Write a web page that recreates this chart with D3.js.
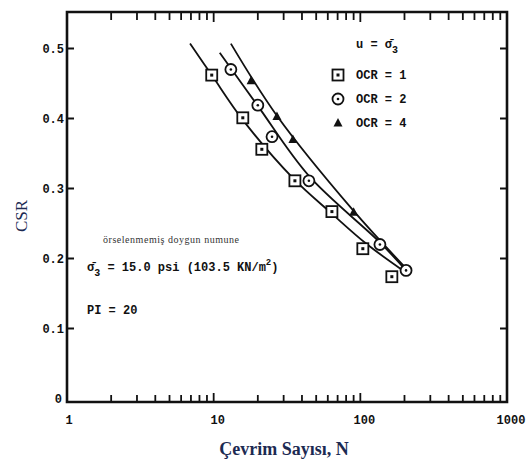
<!DOCTYPE html>
<html>
<head>
<meta charset="utf-8">
<script src="https://cdn.jsdelivr.net/npm/d3@7"></script>
<style>
  body { margin: 0; background: #fff; }
  svg { display: block; }
  .mono { font-family: "Liberation Mono", "DejaVu Sans Mono", monospace; font-weight: bold; }
</style>
</head>
<body>
<div id="chart"></div>
<script>
// values (N, CSR)
var ocr1Points = [[9.7, 0.462], [15.8, 0.401], [21.3, 0.356], [35.8, 0.311], [64, 0.267], [104, 0.214], [164, 0.174]];
var ocr2Points = [[13.1, 0.470], [20, 0.419], [25, 0.374], [44.6, 0.311], [136, 0.220], [205, 0.183]];
var ocr4Points = [[18, 0.454], [27, 0.403], [34.7, 0.370], [90, 0.266]];

// fitted curves drawn through each series
var ocr1Curve = [[6.9, 0.507], [9.7, 0.462], [15.8, 0.398], [35, 0.314], [64, 0.264], [110, 0.221], [195, 0.183]];
var ocr2Curve = [[11.0, 0.494], [20, 0.418], [44.6, 0.318], [136, 0.223], [205, 0.183]];
var ocr4Curve = [[13.1, 0.507], [27, 0.404], [90, 0.268], [205, 0.186]];

var yTicks = [0, 0.1, 0.2, 0.3, 0.4, 0.5];
var yTickLabels = ["0", "0.1", "0.2", "0.3", "0.4", "0.5"];
var xTicks = [1, 10, 100, 1000];
var xTickLabels = ["1", "10", "100", "1000"];
var legendLabels = ["OCR = 1", "OCR = 2", "OCR = 4"];

var W = 526, H = 470;
var svg = d3.select("#chart").append("svg").attr("width", W).attr("height", H);

var x = d3.scaleLog().domain([1, 1000]).range([67, 507]);
var y = d3.scaleLinear().domain([-0.005, 0.55]).range([402, 13.5]);

var ink = "#111";

// minor ticks on log axis
var minor = [];
[1, 10, 100].forEach(function (dec) {
    for (var k = 2; k <= 9; k++) minor.push(dec * k);
});

var g = svg.append("g");

// bottom ticks (inside)
g.selectAll(".bt").data(minor.concat([10, 100])).enter().append("line")
    .attr("x1", x).attr("x2", x)
    .attr("y1", 402).attr("y2", function (d) { return [10, 100].indexOf(d) >= 0 ? 393 : 395; })
    .attr("stroke", ink).attr("stroke-width", 1.8);
// top ticks (inside)
g.selectAll(".tt").data(minor.concat([10, 100])).enter().append("line")
    .attr("x1", x).attr("x2", x)
    .attr("y1", 12).attr("y2", function (d) { return [10, 100].indexOf(d) >= 0 ? 22 : 20; })
    .attr("stroke", ink).attr("stroke-width", 1.8);
// left ticks
g.selectAll(".lt").data(yTicks.slice(1)).enter().append("line")
    .attr("x1", 67).attr("x2", 74)
    .attr("y1", y).attr("y2", y)
    .attr("stroke", ink).attr("stroke-width", 2);
// right ticks
g.selectAll(".rt").data(yTicks.slice(1)).enter().append("line")
    .attr("x1", 507).attr("x2", 500)
    .attr("y1", y).attr("y2", y)
    .attr("stroke", ink).attr("stroke-width", 2);

// frame
g.append("path")
    .attr("d", "M67,12 L507,12 L507,402 L67,402 Z")
    .attr("fill", "none").attr("stroke", ink).attr("stroke-width", 2.6);

// tick labels
g.selectAll(".yl").data(yTicks).enter().append("text")
    .attr("class", "mono")
    .attr("x", function (d) { return d === 0 ? 62 : 64; })
    .attr("y", function (d) { return y(d) + 4; })
    .attr("text-anchor", "end")
    .attr("font-size", 12)
    .attr("fill", ink)
    .text(function (d, i) { return yTickLabels[i]; });

g.selectAll(".xl").data(xTicks).enter().append("text")
    .attr("class", "mono")
    .attr("x", function (d) { return x(d) + (d === 1 ? 2 : 4); })
    .attr("y", 424)
    .attr("text-anchor", "middle")
    .attr("font-size", 12)
    .attr("fill", ink)
    .text(function (d, i) { return xTickLabels[i]; });

// axis titles
svg.append("text")
    .attr("transform", "translate(27,216) rotate(-90)")
    .attr("text-anchor", "middle")
    .attr("font-family", "Liberation Serif, Times New Roman, serif")
    .attr("font-size", 17)
    .attr("fill", "#1c2a52")
    .text("CSR");

svg.append("text")
    .attr("x", 284).attr("y", 455)
    .attr("text-anchor", "middle")
    .attr("font-family", "Liberation Serif, Times New Roman, serif")
    .attr("font-weight", "bold")
    .attr("font-size", 18)
    .attr("fill", "#1c2a52")
    .text("Çevrim Sayısı, N");

// curves
var line = d3.line()
    .x(function (d) { return x(d[0]); })
    .y(function (d) { return y(d[1]); })
    .curve(d3.curveCatmullRom);

[ocr1Curve, ocr2Curve, ocr4Curve].forEach(function (c) {
    g.append("path").attr("d", line(c))
        .attr("fill", "none").attr("stroke", ink).attr("stroke-width", 1.8);
});

// markers
function square(sel, cx, cy) {
    sel.append("rect").attr("x", cx - 5.5).attr("y", cy - 5.5).attr("width", 11).attr("height", 11)
        .attr("fill", "#fff").attr("stroke", ink).attr("stroke-width", 1.8);
    sel.append("rect").attr("x", cx - 1.5).attr("y", cy - 1.5).attr("width", 3).attr("height", 3).attr("fill", ink);
}
function circle(sel, cx, cy) {
    sel.append("circle").attr("cx", cx).attr("cy", cy).attr("r", 5.5)
        .attr("fill", "#fff").attr("stroke", ink).attr("stroke-width", 1.8);
    sel.append("circle").attr("cx", cx).attr("cy", cy).attr("r", 1.3).attr("fill", ink);
}
function triangle(sel, cx, cy) {
    sel.append("path").attr("d", "M" + cx + "," + (cy - 5) + " L" + (cx + 4.5) + "," + (cy + 3.5) + " L" + (cx - 4.5) + "," + (cy + 3.5) + " Z")
        .attr("fill", ink);
}

var mk = svg.append("g");
ocr1Points.forEach(function (d) { square(mk, x(d[0]), y(d[1])); });
ocr2Points.forEach(function (d) { circle(mk, x(d[0]), y(d[1])); });
ocr4Points.forEach(function (d) { triangle(mk, x(d[0]), y(d[1])); });

// legend
var lg = svg.append("g");
var uLabel = lg.append("text").attr("class", "mono").attr("x", 356).attr("y", 48)
    .attr("font-size", 12).attr("fill", ink);
uLabel.append("tspan").text("u = σ̄");
uLabel.append("tspan").attr("font-size", 10).attr("dy", 5).text("3");

var markerFns = [square, circle, triangle];
legendLabels.forEach(function (t, i) {
    var ly = 75 + i * 24;
    markerFns[i](lg, 338, ly);
    lg.append("text").attr("class", "mono").attr("x", 356).attr("y", ly + 4)
        .attr("font-size", 12).attr("fill", ink).text(t);
});

// annotations
svg.append("text")
    .attr("x", 103).attr("y", 243)
    .attr("font-family", "Liberation Serif, Times New Roman, serif")
    .attr("font-size", 10)
    .attr("textLength", 136)
    .attr("fill", "#333")
    .text("örselenmemiş doygun numune");

var s3 = svg.append("text").attr("class", "mono").attr("x", 87).attr("y", 271)
    .attr("font-size", 12).attr("fill", ink);
s3.append("tspan").text("σ̄");
s3.append("tspan").attr("font-size", 10).attr("dy", 5).text("3");
s3.append("tspan").attr("dy", -5).text(" = 15.0 psi (103.5 KN/m");
s3.append("tspan").attr("font-size", 9).attr("dy", -6).text("2");
s3.append("tspan").attr("dy", 6).text(")");

svg.append("text").attr("class", "mono").attr("x", 87).attr("y", 314)
    .attr("font-size", 12).attr("fill", ink).text("PI = 20");
</script>
</body>
</html>
